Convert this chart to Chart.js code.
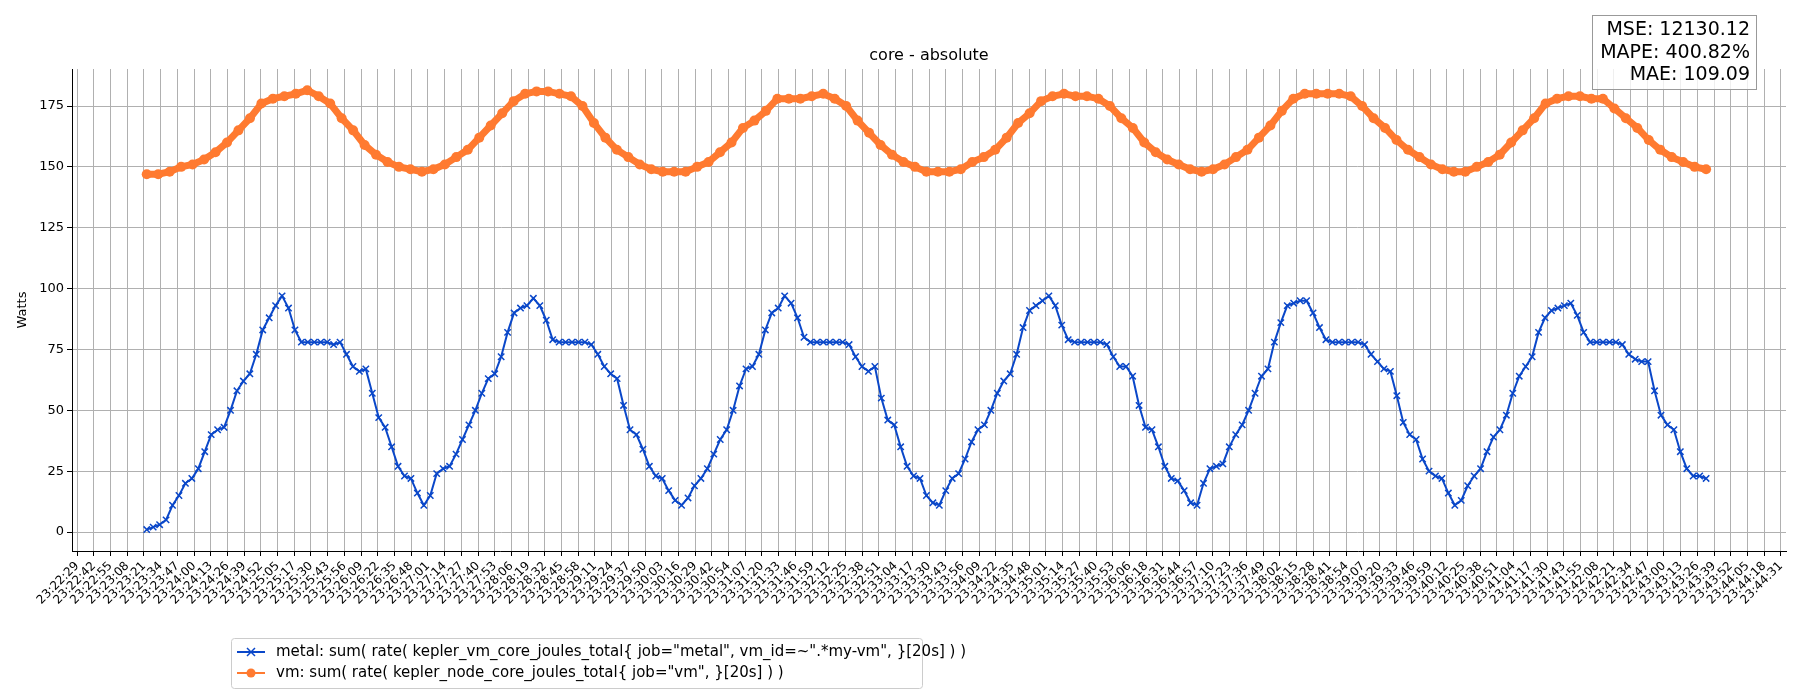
<!DOCTYPE html>
<html>
<head>
<meta charset="utf-8">
<script src="https://cdn.jsdelivr.net/npm/chart.js@4"></script>
<style>
  html, body { margin: 0; padding: 0; background: #fff; }
  #wrap { width: 1800px; height: 700px; }
</style>
</head>
<body>
<div id="wrap"><canvas id="chart"></canvas></div>
<script>
// series values (Watts)
const metalValues = [
  1,2,3,5,11,15,20,22,26,33,40,42,43,50,58,62,65,73,83,88,93,97,92,83,
  78,78,78,78,78,77,78,
  73,68,66,67,57,47,43,35,27,23,22,16,11,
  15,24,26,27,32,38,44,50,57,63,65,72,82,90,92,93,96,93,87,79,
  78,78,78,78,78,77,
  73,68,65,63,52,42,40,34,27,23,22,17,13,11,
  14,19,22,26,32,38,42,50,60,67,68,73,83,90,92,97,94,88,80,78,
  78,78,78,78,78,77,
  72,68,66,68,55,46,44,35,27,23,22,15,12,11,
  17,22,24,30,37,42,44,50,57,62,65,73,84,91,93,95,97,93,85,79,
  78,78,78,78,78,77,
  72,68,68,64,52,43,42,35,27,22,21,17,12,11,
  20,26,27,28,35,40,44,50,57,64,67,78,86,93,94,95,95,90,84,79,
  78,78,78,78,78,77,
  73,70,67,66,56,45,40,38,30,25,23,22,16,11,
  13,19,23,26,33,39,42,48,57,64,68,72,82,88,91,92,93,94,89,82,
  78,78,78,78,78,77,
  73,71,70,70,58,48,44,42,33,26,23,23,22
];
const vmValues = [
  147,147,148,150,151,153,156,160,165,170,176,178,179,180,181.5,179,176,170,165,159,
  155,152,150,149,148,149,151,154,157,162,167,172,177,180,181,181,180,179,175,168,
  162,157,154,151,149,148,148,148,150,152,156,160,166,169,173,178,178,178,179,180,
  178,175,169,164,159,155,152,150,148,148,148,149,152,154,157,162,168,172,177,179,
  180,179,179,178,175,170,166,160,156,153,151,149,148,149,151,154,157,162,167,173,
  178,180,180,180,180,179,175,170,166,161,157,154,151,149,148,148,150,152,155,160,
  165,170,176,178,179,179,178,178,174,170,166,161,157,154,152,150,149
];
const metricLines = ['MSE: 12130.12', 'MAPE: 400.82%', 'MAE: 109.09'];
const seriesLabels = [
  'metal: sum( rate( kepler_vm_core_joules_total{ job="metal", vm_id=~".*my-vm", }[20s] ) )',
  'vm: sum( rate( kepler_node_core_joules_total{ job="vm", }[20s] ) )'
];
const yTicks = [0, 25, 50, 75, 100, 125, 150, 175];
// time axis: seconds relative to 23:23:23 (first sample)
const startSec = 23 * 3600 + 23 * 60 + 23;
const spanSec = 1210;
const firstTick = -54;     // 23:22:29
const tickSpan = 1322;     // up to 23:44:31
const tickCount = 103;

const metalColor = '#0a47c9';
const vmColor = '#ff7a30';

const pad = n => String(n).padStart(2, '0');
function fmtTime(rel) {
  const s = Math.floor(startSec + rel + 0.5);
  return pad(Math.floor(s / 3600) % 24) + ':' + pad(Math.floor(s / 60) % 60) + ':' + pad(s % 60);
}

const metalPoints = metalValues.map((v, i) => ({ x: i * spanSec / (metalValues.length - 1), y: v }));
const vmPoints = vmValues.map((v, i) => ({ x: i * spanSec / (vmValues.length - 1), y: v }));

const overlay = {
  id: 'overlay',
  afterDraw(chart) {
    const ctx = chart.ctx;
    const area = chart.chartArea;
    ctx.save();
    // title
    ctx.fillStyle = '#000';
    ctx.font = '16px "DejaVu Sans"';
    ctx.textAlign = 'center';
    ctx.textBaseline = 'alphabetic';
    ctx.fillText('core - absolute', (area.left + area.right) / 2, 60);
    // y axis title
    ctx.save();
    ctx.translate(26, (area.top + area.bottom) / 2);
    ctx.rotate(-Math.PI / 2);
    ctx.font = '13px "DejaVu Sans"';
    ctx.fillText('Watts', 0, 0);
    ctx.restore();
    // metrics box
    ctx.fillStyle = 'rgba(255,255,255,0.8)';
    ctx.fillRect(1592, 15, 164, 74);
    ctx.strokeStyle = '#999';
    ctx.lineWidth = 1;
    ctx.strokeRect(1592.5, 15.5, 164, 74);
    ctx.fillStyle = '#000';
    ctx.font = '19px "DejaVu Sans"';
    ctx.textAlign = 'right';
    metricLines.forEach((t, i) => ctx.fillText(t, 1750, 35 + i * 22.5));
    // legend
    ctx.strokeStyle = '#ccc';
    ctx.fillStyle = '#fff';
    ctx.beginPath();
    ctx.roundRect(231.5, 638.5, 691, 50, 3);
    ctx.fill();
    ctx.stroke();
    ctx.font = '15px "DejaVu Sans"';
    ctx.textAlign = 'left';
    ctx.textBaseline = 'middle';
    [[metalColor, 652, 'x'], [vmColor, 673, 'o']].forEach(([c, y, m], i) => {
      ctx.strokeStyle = c;
      ctx.lineWidth = 2;
      ctx.beginPath();
      ctx.moveTo(237, y); ctx.lineTo(265, y); ctx.stroke();
      if (m === 'x') {
        ctx.lineWidth = 1.5;
        ctx.beginPath();
        ctx.moveTo(247, y - 4); ctx.lineTo(255, y + 4);
        ctx.moveTo(255, y - 4); ctx.lineTo(247, y + 4);
        ctx.stroke();
      } else {
        ctx.fillStyle = c;
        ctx.beginPath(); ctx.arc(251, y, 4.5, 0, Math.PI * 2); ctx.fill();
      }
      ctx.fillStyle = '#000';
      ctx.fillText(seriesLabels[i], 276, y);
    });
    ctx.restore();
  }
};

new Chart(document.getElementById('chart'), {
  type: 'line',
  data: {
    datasets: [
      {
        label: seriesLabels[1],
        data: vmPoints,
        borderColor: vmColor,
        backgroundColor: vmColor,
        borderWidth: 7,
        pointRadius: 5,
        pointBorderWidth: 0,
        tension: 0
      },
      {
        label: seriesLabels[0],
        data: metalPoints,
        borderColor: metalColor,
        backgroundColor: metalColor,
        borderWidth: 2,
        pointStyle: 'crossRot',
        pointRadius: 4.5,
        pointBorderWidth: 1.5,
        tension: 0
      }
    ]
  },
  options: {
    responsive: true,
    maintainAspectRatio: false,
    animation: false,
    layout: { padding: { top: 69, right: 14, left: 0, bottom: 0 } },
    plugins: { legend: { display: false }, tooltip: { enabled: false } },
    scales: {
      x: {
        type: 'linear',
        min: -58,
        max: 1272,
        afterFit(s) { s.height = 149; },
        afterBuildTicks(s) {
          const t = [];
          for (let i = 0; i < tickCount; i++) t.push({ value: firstTick + i * tickSpan / (tickCount - 1) });
          s.ticks = t;
        },
        ticks: {
          autoSkip: false,
          minRotation: 45,
          maxRotation: 45,
          color: '#000',
          font: { family: 'DejaVu Sans', size: 12 },
          callback: v => fmtTime(v)
        },
        grid: { color: '#b0b0b0', lineWidth: 1, tickLength: 5, tickColor: '#000' },
        border: { color: '#000', width: 1 }
      },
      y: {
        min: -7.8,
        max: 190.2,
        afterFit(s) { s.width = 72; },
        afterBuildTicks(s) { s.ticks = yTicks.map(v => ({ value: v })); },
        ticks: { color: '#000', font: { family: 'DejaVu Sans', size: 13 } },
        grid: { color: '#b0b0b0', lineWidth: 1, tickLength: 5, tickColor: '#000' },
        border: { color: '#000', width: 1 }
      }
    }
  },
  plugins: [overlay]
});
</script>
</body>
</html>
